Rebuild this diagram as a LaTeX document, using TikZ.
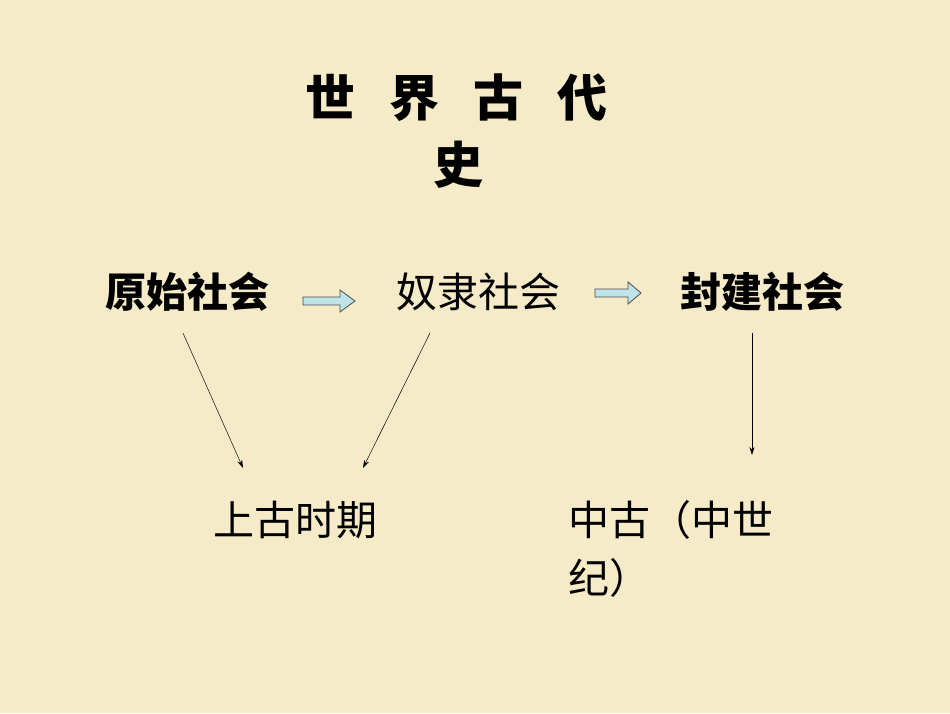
\documentclass[tikz,border=0pt]{standalone}
\usepackage{fontspec}
\setmainfont{Noto Sans CJK SC}
\definecolor{bg}{HTML}{F6EBC8}
\definecolor{blk}{HTML}{BFE3E6}
\begin{document}
\begin{tikzpicture}[x=1pt,y=-1pt,
  title/.style={font=\fontsize{50}{54}\selectfont\bfseries,inner sep=0},
  stage/.style={font=\fontsize{41}{46}\selectfont,inner sep=0},
  conn/.style={-{Stealth[length=8pt,width=5pt]},line width=0.5pt,black},
  blockarrow/.style={draw=black!70,fill=blk,line width=0.8pt}]
\usetikzlibrary{arrows.meta}
\fill[bg] (0,0) rectangle (950,713);
\useasboundingbox (0,0) rectangle (950,713);
\node[title] (t1) at (456,98) {世\hspace{34pt}界\hspace{34pt}古\hspace{34pt}代};
\node[title] (t2) at (458,165) {史};
\node[stage,font=\fontsize{41}{46}\selectfont\bfseries] (a) at (187,292) {原始社会};
\node[stage] (b) at (478,292) {奴隶社会};
\node[stage,font=\fontsize{41}{46}\selectfont\bfseries] (c) at (762,292) {封建社会};
\node[stage] (d) at (295,520) {上古时期};
\node[stage,anchor=west] (e) at (568,520) {中古（中世};
\node[stage,anchor=west] (f) at (568,578) {纪）};
\coordinate (a1) at (183,333); \coordinate (a2) at (243,468);
\coordinate (b1) at (430,333); \coordinate (b2) at (363,468);
\coordinate (c1) at (752,333); \coordinate (c2) at (752,455);
\draw[conn] (a1) -- (a2);
\draw[conn] (b1) -- (b2);
\draw[conn] (c1) -- (c2);
\draw[blockarrow] (303,297) -- (340,297) -- (340,290) -- (355,301) -- (340,312) -- (340,305) -- (303,305) -- cycle;
\draw[blockarrow] (595,289) -- (628,289) -- (628,282) -- (641,293) -- (628,304) -- (628,297) -- (595,297) -- cycle;
\end{tikzpicture}
\end{document}
